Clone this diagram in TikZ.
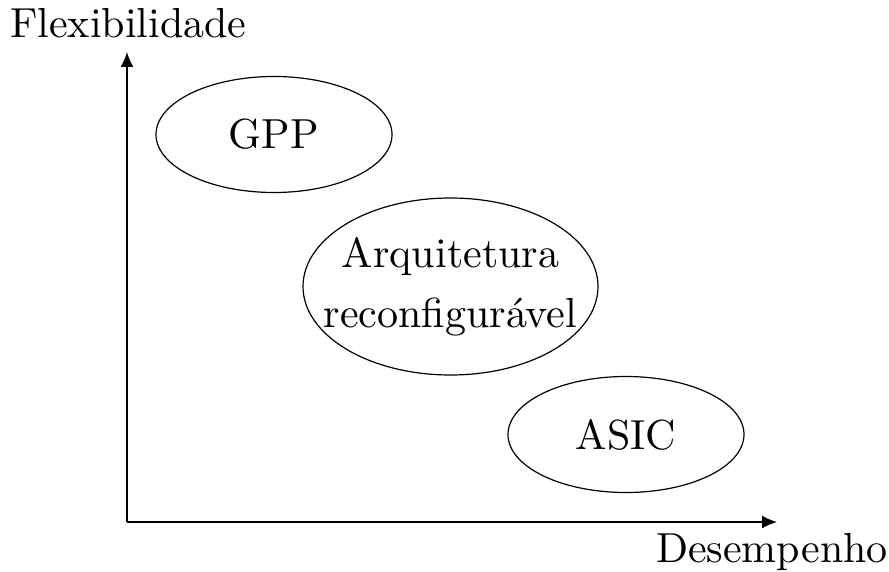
\documentclass[tikz,border=0pt]{standalone}
\usepackage{fontspec}
\setmainfont{lmroman10-regular.otf}
\usetikzlibrary{shapes.geometric,arrows.meta}
\begin{document}
\begin{tikzpicture}[x=1pt,y=-1pt,
  axis/.style={line width=1.6pt,-{Latex[length=15pt,width=13pt]}},
  blob/.style={draw,ellipse,line width=1.2pt,inner xsep=-40pt,inner ysep=-20pt,
    align=center,font=\fontsize{42}{60}\selectfont},
  axlabel/.style={inner sep=0pt,font=\fontsize{42}{50}\selectfont}]
  \useasboundingbox (0,0) rectangle (889,572);
  % axes
  \coordinate (o) at (127,522);
  \coordinate (ytop) at (127,52);
  \coordinate (xend) at (777,522);
  \draw[axis] (o) -- (ytop);
  \draw[axis] (o) -- (xend);
  \node[axlabel,anchor=base west] (flex) at (10,38) {Flexibilidade};
  \node[axlabel,anchor=base east] (des) at (888,562) {Desempenho};
  % technology classes
  \node[blob,minimum width=236pt,minimum height=116pt] (gpp) at (274,134.5) {GPP};
  \node[blob,minimum width=295pt,minimum height=177pt] (rec) at (450.5,286.5)
    {Arquitetura\\reconfigurável};
  \node[blob,minimum width=236pt,minimum height=116pt] (asic) at (626,434.5) {ASIC};
\end{tikzpicture}
\end{document}
